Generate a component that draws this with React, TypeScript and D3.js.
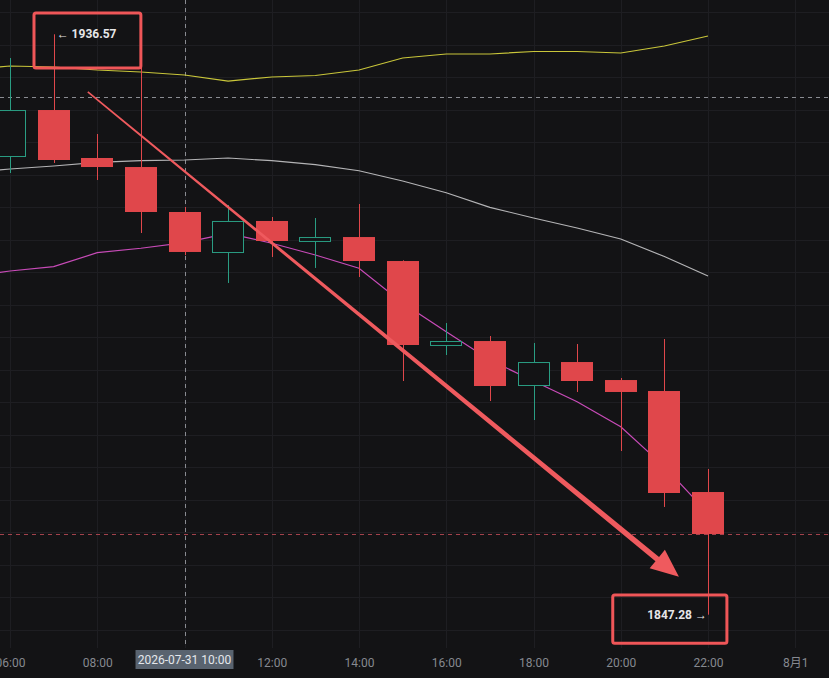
import React, { useEffect, useRef } from 'react';
import * as d3 from 'd3';

// hourly candles, 2026-07-31
const candleTimes = [
  '2026-07-31 06:00', '2026-07-31 07:00', '2026-07-31 08:00', '2026-07-31 09:00',
  '2026-07-31 10:00', '2026-07-31 11:00', '2026-07-31 12:00', '2026-07-31 13:00',
  '2026-07-31 14:00', '2026-07-31 15:00', '2026-07-31 16:00', '2026-07-31 17:00',
  '2026-07-31 18:00', '2026-07-31 19:00', '2026-07-31 20:00', '2026-07-31 21:00',
  '2026-07-31 22:00',
];
const opens = [1917.69, 1924.92, 1917.54, 1916.15, 1909.23, 1902.92, 1907.85, 1904.62, 1905.38, 1901.69, 1888.62, 1889.38, 1882.46, 1886.15, 1883.38, 1881.69, 1866.15];
const highs = [1932.92, 1936.57, 1921.23, 1932.0, 1910.0, 1910.31, 1908.46, 1908.31, 1910.46, 1901.8, 1892.15, 1890.15, 1889.08, 1888.92, 1883.69, 1889.69, 1869.69];
const lows = [1915.23, 1916.77, 1914.15, 1906.0, 1902.6, 1898.31, 1902.31, 1900.62, 1899.23, 1883.23, 1887.23, 1880.15, 1877.23, 1881.54, 1872.46, 1863.85, 1847.28];
const closes = [1924.92, 1917.23, 1916.15, 1909.23, 1903.08, 1907.85, 1904.77, 1905.38, 1901.69, 1888.77, 1889.38, 1882.46, 1886.15, 1883.23, 1881.54, 1866.0, 1859.69];

// indicator lines (first point is the off-screen 05:00 bar)
const lineTimes = ['2026-07-31 05:00', ...candleTimes];
const upperBand = [1931.1, 1931.69, 1931.54, 1931.08, 1930.77, 1930.31, 1929.38, 1930.0, 1930.23, 1931.08, 1932.92, 1933.54, 1933.54, 1933.92, 1933.92, 1933.69, 1934.77, 1936.31];
const midBand = [1915.2, 1915.85, 1916.31, 1916.88, 1917.12, 1917.23, 1917.54, 1917.12, 1916.51, 1915.58, 1914.0, 1912.2, 1909.95, 1908.31, 1906.77, 1905.08, 1902.38, 1899.38];
const fastLine = [1899.2, 1900.15, 1900.82, 1902.97, 1903.65, 1904.51, 1905.95, 1904.42, 1902.62, 1900.57, 1895.23, 1890.82, 1886.46, 1883.23, 1880.05, 1876.2, 1870.05, 1862.88];

const tickTimes = [
  '2026-07-31 06:00', '2026-07-31 08:00', '2026-07-31 10:00', '2026-07-31 12:00',
  '2026-07-31 14:00', '2026-07-31 16:00', '2026-07-31 18:00', '2026-07-31 20:00',
  '2026-07-31 22:00', '2026-08-01 00:00',
];

const crossTime = '2026-07-31 10:00';
const crossPrice = 1926.97;
const lastPrice = 1859.69;
const maxPrice = 1936.57;
const minPrice = 1847.28;

// drawn annotations (time, price)
const arrowFrom = { t: '2026-07-31 07:47', p: 1927.7 };
const arrowTo = { t: '2026-07-31 21:20', p: 1853.1 };
const highBox = { t0: '2026-07-31 06:33', t1: '2026-07-31 09:00', p0: 1939.85, p1: 1931.4 };
const lowBox = { t0: '2026-07-31 19:49', t1: '2026-07-31 22:26', p0: 1850.3, p1: 1842.9 };

const BG = '#131315';
const UP = '#2a9d83';
const DOWN = '#e0474b';

const App = () => {
  const svgRef = useRef<SVGSVGElement>(null);

  useEffect(() => {
    const svg = d3.select(svgRef.current);
    svg.selectAll('*').remove();

    const width = 829;
    const height = 678;
    const plotBottom = 648;
    const parse = d3.timeParse('%Y-%m-%d %H:%M');

    const x = d3.scaleTime()
      .domain([parse('2026-07-31 06:00')!, parse('2026-07-31 22:00')!])
      .range([10, 708]);
    const y = d3.scaleLinear().domain([1900, 1910]).range([272, 207]);

    const barStep = x(parse('2026-07-31 07:00')!) - x(parse('2026-07-31 06:00')!);
    const bw = Math.round(barStep * 0.73);

    svg.append('rect').attr('width', width).attr('height', height).attr('fill', BG);

    svg.append('defs').append('clipPath').attr('id', 'plot')
      .append('rect').attr('width', width).attr('height', plotBottom);

    const plot = svg.append('g').attr('clip-path', 'url(#plot)');

    // grid
    const pLo = y.invert(plotBottom), pHi = y.invert(0);
    const gridPrices = d3.range(Math.ceil(pLo / 5) * 5, pHi, 5);
    plot.append('g').selectAll('line').data(gridPrices).join('line')
      .attr('x1', 0).attr('x2', width)
      .attr('y1', d => Math.round(y(d)) + 0.5).attr('y2', d => Math.round(y(d)) + 0.5)
      .attr('stroke', '#1e1e22');
    const ticks = tickTimes.map(t => parse(t)!);
    plot.append('g').selectAll('line').data(ticks).join('line')
      .attr('x1', d => Math.round(x(d)) + 0.5).attr('x2', d => Math.round(x(d)) + 0.5)
      .attr('y1', 0).attr('y2', plotBottom)
      .attr('stroke', '#1e1e22');

    // crosshair + last price
    plot.append('line')
      .attr('x1', 0).attr('x2', width)
      .attr('y1', Math.round(y(crossPrice)) + 0.5).attr('y2', Math.round(y(crossPrice)) + 0.5)
      .attr('stroke', '#8a8c92').attr('stroke-dasharray', '4,4');
    plot.append('line')
      .attr('x1', Math.round(x(parse(crossTime)!)) + 0.5).attr('x2', Math.round(x(parse(crossTime)!)) + 0.5)
      .attr('y1', 0).attr('y2', plotBottom)
      .attr('stroke', '#8a8c92').attr('stroke-dasharray', '4,4');
    plot.append('line')
      .attr('x1', 0).attr('x2', width)
      .attr('y1', Math.round(y(lastPrice)) + 0.5).attr('y2', Math.round(y(lastPrice)) + 0.5)
      .attr('stroke', '#a3424c').attr('stroke-dasharray', '4,4');

    // indicator lines
    const lt = lineTimes.map(t => parse(t)!);
    const line = d3.line<number>().x((_, i) => x(lt[i])).y(d => y(d));
    [[upperBand, '#c9c63a'], [midBand, '#b4b4b6'], [fastLine, '#c84bb8']].forEach(([vals, col]) => {
      plot.append('path').attr('d', line(vals as number[])).attr('fill', 'none')
        .attr('stroke', col as string).attr('stroke-width', 1.2);
    });

    // candles
    const candles = candleTimes.map((t, i) => ({
      t: parse(t)!, o: opens[i], h: highs[i], l: lows[i], c: closes[i],
    }));
    const cg = plot.append('g').selectAll('g').data(candles).join('g');
    cg.append('line')
      .attr('x1', d => Math.round(x(d.t)) + 0.5).attr('x2', d => Math.round(x(d.t)) + 0.5)
      .attr('y1', d => y(d.h)).attr('y2', d => y(d.l))
      .attr('stroke', d => (d.c >= d.o ? UP : DOWN));
    cg.append('rect')
      .attr('x', d => Math.round(x(d.t) - bw / 2) + (d.c >= d.o ? 0.5 : 0))
      .attr('width', d => (d.c >= d.o ? bw - 1 : bw))
      .attr('y', d => y(Math.max(d.o, d.c)) + (d.c >= d.o ? 0.5 : 0))
      .attr('height', d => Math.max(1, Math.abs(y(d.o) - y(d.c)) - (d.c >= d.o ? 1 : 0)))
      .attr('fill', d => (d.c >= d.o ? BG : DOWN))
      .attr('stroke', d => (d.c >= d.o ? UP : 'none'));

    // trend arrow (tapered)
    const ax0 = x(parse(arrowFrom.t)!), ay0 = y(arrowFrom.p);
    const ax1 = x(parse(arrowTo.t)!), ay1 = y(arrowTo.p);
    const len = Math.hypot(ax1 - ax0, ay1 - ay0);
    const ux = (ax1 - ax0) / len, uy = (ay1 - ay0) / len;
    const nx = -uy, ny = ux;
    const headLen = 28, headW = 12, w0 = 0.8, w1 = 2.8;
    const bx = ax1 - ux * headLen, by = ay1 - uy * headLen;
    const pts: [number, number][] = [
      [ax0 + nx * w0, ay0 + ny * w0],
      [bx + nx * w1, by + ny * w1],
      [bx + nx * headW, by + ny * headW],
      [ax1, ay1],
      [bx - nx * headW, by - ny * headW],
      [bx - nx * w1, by - ny * w1],
      [ax0 - nx * w0, ay0 - ny * w0],
    ];
    plot.append('path').attr('d', 'M' + pts.map(p => p.join(',')).join('L') + 'Z')
      .attr('fill', '#ef5a5e');

    // high/low markers
    const hiIdx = highs.indexOf(maxPrice);
    const loIdx = lows.indexOf(minPrice);
    plot.append('text')
      .attr('x', x(candles[hiIdx].t) + 3).attr('y', y(maxPrice)).attr('dy', '0.35em')
      .attr('fill', '#e6e6e8').attr('font-family', 'Roboto, sans-serif').attr('font-size', 12)
      .attr('font-weight', 'bold').text(`← ${maxPrice.toFixed(2)}`);
    plot.append('text')
      .attr('x', x(candles[loIdx].t) - 1).attr('y', y(minPrice)).attr('dy', '0.35em')
      .attr('text-anchor', 'end')
      .attr('fill', '#e6e6e8').attr('font-family', 'Roboto, sans-serif').attr('font-size', 12)
      .attr('font-weight', 'bold').text(`${minPrice.toFixed(2)} →`);

    // annotation boxes
    [highBox, lowBox].forEach(b => {
      const x0 = x(parse(b.t0)!), x1 = x(parse(b.t1)!);
      const y0 = y(b.p0), y1 = y(b.p1);
      svg.append('rect')
        .attr('x', x0).attr('y', y0).attr('width', x1 - x0).attr('height', y1 - y0)
        .attr('rx', 2).attr('fill', 'none').attr('stroke', '#ef5658').attr('stroke-width', 3);
    });

    // time axis (the crosshair label replaces the tick under it)
    const fmt = d3.timeFormat('%H:%M');
    const crossT = parse(crossTime)!;
    const axis = svg.append('g')
      .attr('transform', `translate(0,${plotBottom})`)
      .call(d3.axisBottom(x).tickValues(ticks.filter(t => +t !== +crossT)).tickSize(0).tickPadding(10)
        .tickFormat(d => {
          const dt = d as Date;
          return dt.getHours() === 0 ? `${dt.getMonth() + 1}月${dt.getDate()}` : fmt(dt);
        }))
      .call(g => g.select('.domain').remove());
    axis.selectAll('text')
      .attr('fill', '#868990').attr('font-family', 'Roboto, "Noto Sans CJK SC", sans-serif')
      .attr('font-size', 12);

    // crosshair time label
    const cx = x(crossT);
    svg.append('rect')
      .attr('x', cx - 49).attr('y', plotBottom + 2).attr('width', 98).attr('height', 19)
      .attr('fill', '#59636f');
    svg.append('text')
      .attr('x', cx).attr('y', plotBottom + 11.5).attr('dy', '0.35em')
      .attr('text-anchor', 'middle').attr('fill', '#e4e7ec')
      .attr('font-family', 'Roboto, sans-serif').attr('font-size', 12)
      .text(`${crossTime}`);
  }, []);

  return (
    <svg ref={svgRef} width={829} height={678}
      style={{ position: 'absolute', left: 0, top: 0, display: 'block' }} />
  );
};

export default App;
